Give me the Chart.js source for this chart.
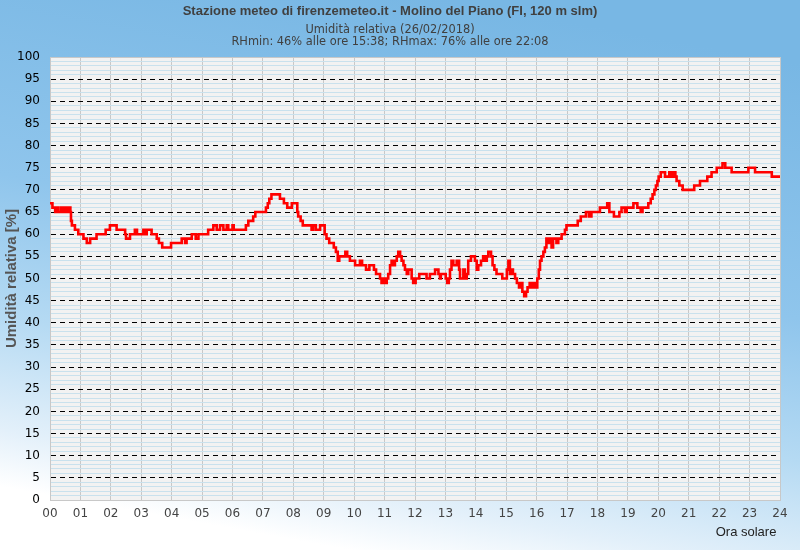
<!DOCTYPE html>
<html>
<head>
<meta charset="utf-8">
<script src="https://cdn.jsdelivr.net/npm/chart.js@4/dist/chart.umd.min.js"></script>
<style>
    html, body { margin: 0; padding: 0; background: #fff; }
    canvas { display: block; }
</style>
</head>
<body>
<canvas id="rh-chart" width="800" height="550"></canvas>
<script>
// Ore (decimali) in cui cambia il valore e umidità relativa [%] da quell'ora in poi
const times = [
    0.00, 0.08, 0.17, 0.22, 0.27, 0.36, 0.41, 0.47, 0.55, 0.62, 0.67, 0.69, 0.72, 0.82, 0.93,
    1.10, 1.21, 1.32, 1.53, 1.83, 1.97, 2.19, 2.47, 2.50, 2.63, 2.79, 2.86, 3.07, 3.12, 3.18,
    3.34, 3.51, 3.58, 3.69, 3.98, 4.33, 4.44, 4.49, 4.66, 4.79, 4.88, 5.20, 5.37, 5.48, 5.59,
    5.70, 5.81, 5.86, 6.00, 6.04, 6.44, 6.52, 6.68, 6.75, 7.10, 7.16, 7.21, 7.28, 7.56, 7.69,
    7.80, 7.95, 8.13, 8.16, 8.24, 8.31, 8.60, 8.65, 8.74, 8.88, 9.03, 9.09, 9.18, 9.33, 9.40,
    9.46, 9.51, 9.71, 9.77, 9.86, 10.03, 10.19, 10.26, 10.39, 10.50, 10.65, 10.72, 10.85, 10.90, 10.96,
    11.01, 11.07, 11.12, 11.18, 11.23, 11.29, 11.34, 11.40, 11.45, 11.51, 11.56, 11.62, 11.67, 11.73, 11.78,
    11.89, 11.94, 12.02, 12.14, 12.38, 12.49, 12.66, 12.77, 12.82, 12.85, 13.01, 13.06, 13.11, 13.15, 13.20,
    13.26, 13.37, 13.45, 13.48, 13.59, 13.64, 13.70, 13.75, 13.84, 13.97, 14.03, 14.08, 14.17, 14.24, 14.32,
    14.36, 14.41, 14.50, 14.55, 14.61, 14.68, 14.87, 15.02, 15.07, 15.12, 15.18, 15.22, 15.29, 15.35, 15.42,
    15.48, 15.53, 15.59, 15.65, 15.70, 15.77, 15.83, 15.90, 15.97, 16.02, 16.07, 16.11, 16.16, 16.22, 16.27,
    16.32, 16.38, 16.44, 16.49, 16.54, 16.65, 16.71, 16.82, 16.93, 16.98, 17.35, 17.45, 17.62, 17.72, 17.80,
    18.08, 18.32, 18.39, 18.54, 18.72, 18.79, 18.90, 18.96, 19.18, 19.31, 19.42, 19.48, 19.67, 19.75, 19.81,
    19.87, 19.92, 19.97, 20.01, 20.08, 20.22, 20.36, 20.42, 20.49, 20.56, 20.60, 20.69, 20.80, 21.18, 21.37,
    21.61, 21.75, 21.92, 22.11, 22.20, 22.41, 22.96, 23.18, 23.73, 24.00
];
const rh = [
    67, 66, 65, 66, 65, 66, 65, 66, 65, 66, 65, 63, 62, 61, 60,
    59, 58, 59, 60, 61, 62, 61, 60, 59, 60, 61, 60, 61, 60, 61,
    60, 59, 58, 57, 58, 59, 58, 59, 60, 59, 60, 61, 62, 61, 62,
    61, 62, 61, 62, 61, 62, 63, 64, 65, 66, 67, 68, 69, 68, 67,
    66, 67, 65, 64, 63, 62, 61, 62, 61, 62, 60, 59, 58, 57, 56,
    54, 55, 56, 55, 54, 53, 54, 53, 52, 53, 52, 51, 50, 49, 50,
    49, 50, 51, 53, 54, 53, 54, 55, 56, 55, 54, 53, 52, 51, 52,
    50, 49, 50, 51, 50, 51, 52, 51, 50, 51, 50, 49, 50, 52, 54,
    53, 54, 52, 50, 52, 50, 51, 54, 55, 54, 52, 53, 54, 55, 54,
    55, 56, 55, 53, 52, 51, 50, 52, 54, 51, 52, 51, 50, 49, 48,
    49, 47, 46, 47, 48, 49, 48, 49, 48, 50, 52, 54, 55, 56, 57,
    59, 58, 59, 57, 59, 58, 59, 60, 61, 62, 63, 64, 65, 64, 65,
    66, 67, 65, 64, 65, 66, 65, 66, 67, 66, 65, 66, 67, 68, 69,
    70, 71, 72, 73, 74, 73, 74, 73, 74, 73, 72, 71, 70, 71, 72,
    73, 74, 75, 76, 75, 74, 75, 74, 73, 73
];

const titleText = "Stazione meteo di firenzemeteo.it - Molino del Piano (FI, 120 m slm)";
const subtitleLines = [
    "Umidità relativa (26/02/2018)",
    "RHmin: 46% alle ore 15:38; RHmax: 76% alle ore 22:08"
];
const yAxisTitle = "Umidità relativa [%]";
const xAxisTitle = "Ora solare ";

// Sfondo sfumato della pagina e fondo grigio dell'area del grafico
const backgroundPlugin = {
    id: "backgrounds",
    beforeDraw: (chart) => {
        const { ctx, width, height, chartArea } = chart;
        ctx.save();
        const grad = ctx.createLinearGradient(450, 0, 350, height);
        grad.addColorStop(0, "#78b7e4");
        grad.addColorStop(0.45, "#8fc5ec");
        grad.addColorStop(0.7, "#b5daf3");
        grad.addColorStop(0.9, "#e3f0fa");
        grad.addColorStop(1, "#ffffff");
        ctx.fillStyle = grad;
        ctx.fillRect(0, 0, width, height);
        ctx.fillStyle = "#f2f2f2";
        ctx.fillRect(chartArea.left, chartArea.top, chartArea.right - chartArea.left, chartArea.bottom - chartArea.top);
        ctx.restore();
    }
};

const ctx = document.getElementById("rh-chart").getContext("2d");
new Chart(ctx, {
    type: "line",
    data: {
        datasets: [{
            data: times.map((t, i) => ({ x: t, y: rh[i] })),
            borderColor: "#ff0000",
            borderWidth: 2.6,
            pointRadius: 0,
            stepped: true,
            fill: false,
        }],
    },
    options: {
        responsive: false,
        animation: false,
        devicePixelRatio: 1,
        layout: { padding: { left: 0, right: 20, top: 0, bottom: 0 } },
        plugins: {
            legend: { display: false },
            tooltip: { enabled: false },
            title: {
                display: true,
                text: titleText,
                color: "#404040",
                font: { family: "Liberation Sans", size: 13, weight: "bold" },
                padding: { top: 4, bottom: 4.8 },
            },
            subtitle: {
                display: true,
                text: subtitleLines,
                color: "#404040",
                font: { family: "DejaVu Sans", size: 11.4, lineHeight: 1.053 },
                padding: { top: 0, bottom: 8.6 },
            },
        },
        scales: {
            x: {
                type: "linear",
                min: 0,
                max: 24,
                afterFit: (scale) => { scale.height = 50; },
                ticks: {
                    stepSize: 1,
                    autoSkip: false,
                    maxRotation: 0,
                    color: "#444444",
                    padding: 7,
                    font: { family: "DejaVu Sans", size: 12 },
                    callback: (v) => String(v).padStart(2, "0"),
                },
                grid: { color: "#c8c8c8", lineWidth: 1, drawTicks: false },
                border: { color: "#c8c8c8" },
                title: {
                    display: true,
                    text: xAxisTitle,
                    align: "end",
                    color: "#222222",
                    font: { family: "Liberation Sans", size: 13 },
                    padding: { top: 0, bottom: 10 },
                },
            },
            y: {
                min: 0,
                max: 100,
                afterFit: (scale) => { scale.width = 50; },
                ticks: {
                    stepSize: 1,
                    autoSkip: false,
                    color: "#000000",
                    padding: 10,
                    font: { family: "DejaVu Sans", size: 12 },
                    callback: (v) => (v % 5 === 0 ? String(v) : ""),
                },
                grid: {
                    drawTicks: false,
                    lineWidth: 1,
                    color: (c) => {
                        const v = c.tick ? c.tick.value : 0;
                        if (v === 0 || v === 100) return "#c8c8c8";
                        return v % 5 === 0 ? "#000000" : "#c9e1ed";
                    },
                },
                border: {
                    color: "#c8c8c8",
                    dash: (c) => {
                        if (!c.tick) return [];
                        const v = c.tick.value;
                        return (v % 5 === 0 && v !== 0 && v !== 100) ? [5, 4] : [];
                    },
                },
                title: {
                    display: true,
                    text: yAxisTitle,
                    color: "#555555",
                    font: { family: "Liberation Sans", size: 15, weight: "bold" },
                    padding: { top: 3, bottom: 0 },
                },
            },
        },
    },
    plugins: [backgroundPlugin],
});
</script>
</body>
</html>
